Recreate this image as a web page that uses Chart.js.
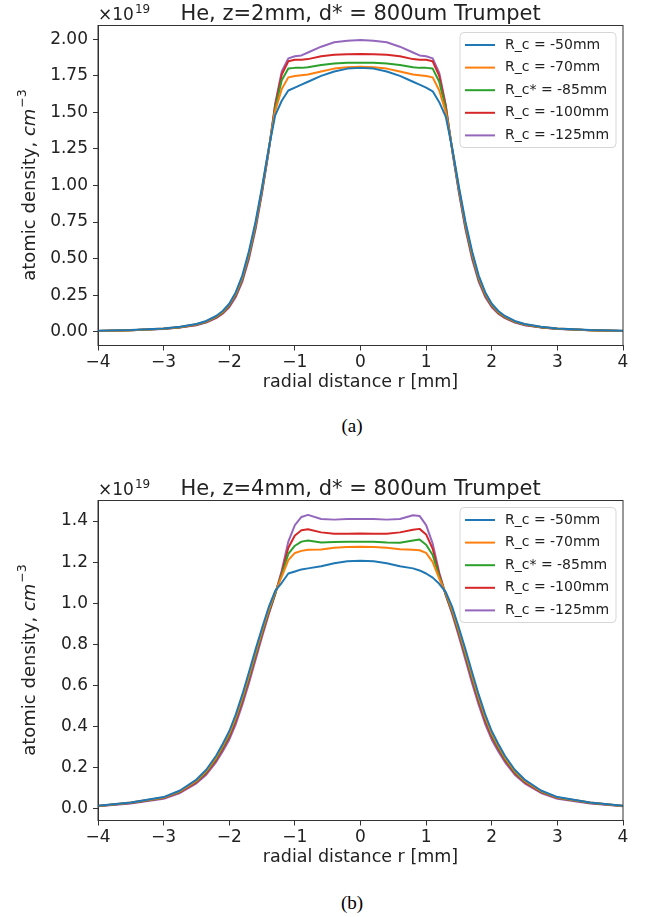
<!DOCTYPE html>
<html>
<head>
<meta charset="utf-8">
<script src="https://cdn.jsdelivr.net/npm/chart.js@4.4.0/dist/chart.umd.min.js"></script>
<style>
  body { margin: 0; background: #fff; }
  #wrap { position: relative; width: 657px; height: 917px; }
  .box { position: absolute; left: 0; width: 657px; height: 393px; }
  .cap { position: absolute; left: 0; width: 704px; text-align: center;
         font: 19px "Liberation Serif", serif; line-height: 24px; color: #000; }
</style>
</head>
<body>
<div id="wrap">
  <div class="box" style="top:0px"><canvas id="chartA" width="657" height="393"></canvas></div>
  <div class="cap" style="top:414px">(a)</div>
  <div class="box" style="top:475px"><canvas id="chartB" width="657" height="393"></canvas></div>
  <div class="cap" style="top:891px">(b)</div>
</div>
<script>
// radial positions (mm), shared by every curve
var radiusMm = [-4, -3.5, -3, -2.75, -2.5, -2.35, -2.2, -2.1, -2, -1.9, -1.8, -1.7, -1.6, -1.5, -1.4, -1.3,
  -1.2, -1.1, -1, -0.9, -0.8, -0.6, -0.4, -0.2, 0, 0.2, 0.4, 0.6, 0.8, 0.9, 1, 1.1, 1.2,
  1.3, 1.4, 1.5, 1.6, 1.7, 1.8, 1.9, 2, 2.1, 2.2, 2.35, 2.5, 2.75, 3, 3.5, 4];

var seriesLabels = ['R_c = -50mm', 'R_c = -70mm', 'R_c* = -85mm', 'R_c = -100mm', 'R_c = -125mm'];
var seriesColors = ['#1f77b4', '#ff7f0e', '#2ca02c', '#d62728', '#9467bd'];

// (a) z = 2mm, density in 1e19 cm^-3
var aRc50 = [0.006, 0.011, 0.022, 0.033, 0.052, 0.073, 0.107, 0.141, 0.191, 0.270, 0.385, 0.550, 0.750, 0.990, 1.250, 1.480,
  1.580, 1.650, 1.670, 1.690, 1.710, 1.750, 1.780, 1.800, 1.805, 1.800, 1.780, 1.750, 1.710, 1.690, 1.670, 1.645, 1.570,
  1.470, 1.250, 0.990, 0.750, 0.550, 0.385, 0.270, 0.191, 0.141, 0.107, 0.073, 0.052, 0.033, 0.022, 0.011, 0.006];
var aRc70 = [0.005, 0.010, 0.021, 0.031, 0.050, 0.070, 0.103, 0.136, 0.185, 0.262, 0.375, 0.537, 0.737, 0.980, 1.245, 1.510,
  1.660, 1.740, 1.750, 1.755, 1.760, 1.780, 1.800, 1.810, 1.812, 1.810, 1.800, 1.780, 1.760, 1.755, 1.750, 1.740, 1.650,
  1.500, 1.245, 0.980, 0.737, 0.537, 0.375, 0.262, 0.185, 0.136, 0.103, 0.070, 0.050, 0.031, 0.021, 0.010, 0.005];
var aRc85 = [0.005, 0.010, 0.020, 0.030, 0.048, 0.068, 0.100, 0.132, 0.180, 0.255, 0.365, 0.525, 0.725, 0.970, 1.240, 1.530,
  1.720, 1.800, 1.805, 1.805, 1.810, 1.825, 1.835, 1.840, 1.840, 1.840, 1.835, 1.825, 1.810, 1.805, 1.805, 1.800, 1.710,
  1.520, 1.240, 0.970, 0.725, 0.525, 0.365, 0.255, 0.180, 0.132, 0.100, 0.068, 0.048, 0.030, 0.020, 0.010, 0.005];
var aRc100 = [0.005, 0.010, 0.019, 0.029, 0.046, 0.065, 0.096, 0.127, 0.174, 0.247, 0.355, 0.512, 0.712, 0.960, 1.235, 1.550,
  1.760, 1.850, 1.860, 1.860, 1.865, 1.885, 1.895, 1.898, 1.900, 1.898, 1.895, 1.885, 1.865, 1.860, 1.860, 1.850, 1.750,
  1.540, 1.235, 0.960, 0.712, 0.512, 0.355, 0.247, 0.174, 0.127, 0.096, 0.065, 0.046, 0.029, 0.019, 0.010, 0.005];
var aRc125 = [0.004, 0.009, 0.018, 0.028, 0.044, 0.062, 0.092, 0.122, 0.167, 0.238, 0.343, 0.498, 0.698, 0.950, 1.230, 1.560,
  1.780, 1.870, 1.885, 1.890, 1.910, 1.950, 1.980, 1.990, 1.995, 1.990, 1.980, 1.950, 1.910, 1.890, 1.885, 1.870, 1.770,
  1.550, 1.230, 0.950, 0.698, 0.498, 0.343, 0.238, 0.167, 0.122, 0.092, 0.062, 0.044, 0.028, 0.018, 0.009, 0.004];

// (b) z = 4mm
var bRc50 = [0.016, 0.032, 0.058, 0.090, 0.143, 0.191, 0.259, 0.316, 0.378, 0.460, 0.557, 0.665, 0.775, 0.880, 0.980, 1.060,
  1.100, 1.145, 1.155, 1.165, 1.170, 1.180, 1.195, 1.205, 1.207, 1.205, 1.195, 1.180, 1.170, 1.160, 1.145, 1.125, 1.095,
  1.055, 0.980, 0.880, 0.775, 0.665, 0.557, 0.460, 0.378, 0.316, 0.259, 0.191, 0.143, 0.090, 0.058, 0.032, 0.016];
var bRc70 = [0.015, 0.031, 0.056, 0.087, 0.138, 0.185, 0.251, 0.307, 0.368, 0.448, 0.544, 0.651, 0.761, 0.868, 0.968, 1.055,
  1.130, 1.210, 1.245, 1.255, 1.260, 1.262, 1.270, 1.274, 1.275, 1.274, 1.270, 1.263, 1.260, 1.258, 1.245, 1.200, 1.120,
  1.050, 0.968, 0.868, 0.761, 0.651, 0.544, 0.448, 0.368, 0.307, 0.251, 0.185, 0.138, 0.087, 0.056, 0.031, 0.015];
var bRc85 = [0.015, 0.030, 0.055, 0.085, 0.135, 0.180, 0.245, 0.300, 0.360, 0.440, 0.535, 0.640, 0.750, 0.860, 0.960, 1.050,
  1.140, 1.240, 1.280, 1.300, 1.305, 1.296, 1.298, 1.300, 1.300, 1.300, 1.296, 1.295, 1.305, 1.310, 1.285, 1.235, 1.130,
  1.045, 0.960, 0.860, 0.750, 0.640, 0.535, 0.440, 0.360, 0.300, 0.245, 0.180, 0.135, 0.085, 0.055, 0.030, 0.015];
var bRc100 = [0.014, 0.029, 0.053, 0.082, 0.131, 0.174, 0.238, 0.292, 0.350, 0.428, 0.523, 0.628, 0.740, 0.850, 0.952, 1.045,
  1.150, 1.270, 1.330, 1.355, 1.360, 1.345, 1.338, 1.338, 1.340, 1.338, 1.338, 1.345, 1.358, 1.362, 1.335, 1.265, 1.140,
  1.040, 0.952, 0.850, 0.740, 0.628, 0.523, 0.428, 0.350, 0.292, 0.238, 0.174, 0.131, 0.082, 0.053, 0.029, 0.014];
var bRc125 = [0.013, 0.027, 0.050, 0.078, 0.125, 0.167, 0.228, 0.280, 0.337, 0.413, 0.507, 0.612, 0.725, 0.838, 0.945, 1.045,
  1.160, 1.300, 1.380, 1.420, 1.430, 1.410, 1.407, 1.410, 1.410, 1.410, 1.407, 1.410, 1.428, 1.425, 1.380, 1.290, 1.150,
  1.040, 0.945, 0.838, 0.725, 0.612, 0.507, 0.413, 0.337, 0.280, 0.228, 0.167, 0.125, 0.078, 0.050, 0.027, 0.013];

// tick positions
var xTickVals = [-4, -3, -2, -1, 0, 1, 2, 3, 4];
var aYTickVals = [0, 0.25, 0.5, 0.75, 1, 1.25, 1.5, 1.75, 2];
var bYTickVals = [0, 0.2, 0.4, 0.6, 0.8, 1, 1.2, 1.4];

var FONT = '"DejaVu Sans", sans-serif';
var INK = '#222';

// title, offset text, y label, frame and legend drawn on top of the chart
var decor = {
  id: 'decor',
  afterDraw: function (chart) {
    var o = chart.options.plugins.decor, a = chart.chartArea, ctx = chart.ctx;
    ctx.save();
    ctx.strokeStyle = '#333';
    ctx.lineWidth = 1;
    ctx.strokeRect(a.left, a.top, a.right - a.left, a.bottom - a.top);

    ctx.fillStyle = INK;
    ctx.textBaseline = 'alphabetic';
    ctx.textAlign = 'center';
    ctx.font = '21px ' + FONT;
    ctx.fillText(o.title, (a.left + a.right) / 2, a.top - 6);

    ctx.textAlign = 'left';
    ctx.font = '17px ' + FONT;
    ctx.fillText('\u00d710', a.left, a.top - 6);
    var w10 = ctx.measureText('\u00d710').width;
    ctx.font = '12px ' + FONT;
    ctx.fillText('19', a.left + w10 + 1, a.top - 13);

    // y label: "atomic density, cm^-3"
    var p1 = 'atomic density, ', p2 = 'cm', p3 = '\u22123';
    ctx.font = '18px ' + FONT; var w1 = ctx.measureText(p1).width;
    ctx.font = 'oblique 18px ' + FONT; var w2 = ctx.measureText(p2).width;
    ctx.font = '12.5px ' + FONT; var w3 = ctx.measureText(p3).width;
    ctx.translate(30, (a.top + a.bottom) / 2);
    ctx.rotate(-Math.PI / 2);
    ctx.textBaseline = 'middle';
    var sx = -(w1 + w2 + w3) / 2;
    ctx.font = '18px ' + FONT; ctx.fillText(p1, sx, 0);
    ctx.font = 'oblique 18px ' + FONT; ctx.fillText(p2, sx + w1, 0);
    ctx.font = '12.5px ' + FONT; ctx.fillText(p3, sx + w1 + w2 + 1, -7);
    ctx.setTransform(1, 0, 0, 1, 0, 0);

    // legend box, upper right
    var bw = 156, bh = 115, bx = a.right - 7 - bw, by = a.top + 7;
    ctx.beginPath();
    ctx.roundRect(bx, by, bw, bh, 4);
    ctx.fillStyle = 'rgba(255,255,255,0.8)';
    ctx.fill();
    ctx.strokeStyle = '#d6d6d6';
    ctx.stroke();
    ctx.font = '14px ' + FONT;
    ctx.textBaseline = 'middle';
    chart.data.datasets.forEach(function (ds, i) {
      var ly = by + 12.5 + i * 22.6;
      ctx.strokeStyle = ds.borderColor;
      ctx.lineWidth = 2;
      ctx.beginPath();
      ctx.moveTo(bx + 5, ly);
      ctx.lineTo(bx + 35, ly);
      ctx.stroke();
      ctx.fillStyle = INK;
      ctx.fillText(ds.label, bx + 45, ly);
    });
    ctx.restore();
  }
};

function fmtMinus(v, digits) {
  var s = Math.abs(v).toFixed(digits);
  return v < 0 ? '\u2212' + s : s;
}

function makeChart(id, title, series, yMin, yMax, yTicks, yDigits) {
  var datasets = series.map(function (vals, i) {
    return {
      label: seriesLabels[i],
      data: radiusMm.map(function (x, j) { return {x: x, y: vals[j]}; }),
      borderColor: seriesColors[i],
      borderWidth: 2,
      pointRadius: 0,
      tension: 0,
      fill: false,
      borderJoinStyle: 'round'
    };
  });
  var ctx = document.getElementById(id).getContext('2d');
  return new Chart(ctx, {
    type: 'line',
    data: {datasets: datasets},
    plugins: [decor],
    options: {
      responsive: false,
      animation: false,
      layout: {padding: {top: 25.5, right: 34, bottom: 0, left: 0}},
      plugins: {
        legend: {display: false},
        tooltip: {enabled: false},
        decor: {title: title}
      },
      scales: {
        x: {
          type: 'linear', min: -4, max: 4,
          afterBuildTicks: function (s) { s.ticks = xTickVals.map(function (v) { return {value: v}; }); },
          afterFit: function (s) { s.height = 47.5; },
          ticks: {
            font: {family: FONT, size: 17}, color: INK, padding: 2,
            maxRotation: 0, autoSkip: false,
            callback: function (v) { return fmtMinus(v, 0); }
          },
          grid: {drawOnChartArea: false, drawTicks: true, tickLength: 5, color: '#333'},
          border: {display: true, color: '#333'},
          title: {display: true, text: 'radial distance r [mm]', color: INK,
                  font: {family: FONT, size: 17.5}, padding: 0}
        },
        y: {
          type: 'linear', min: yMin, max: yMax,
          afterBuildTicks: function (s) { s.ticks = yTicks.map(function (v) { return {value: v}; }); },
          afterFit: function (s) { s.width = 98; },
          ticks: {
            font: {family: FONT, size: 17}, color: INK, padding: 5, autoSkip: false,
            callback: function (v) { return fmtMinus(v, yDigits); }
          },
          grid: {drawOnChartArea: false, drawTicks: true, tickLength: 5, color: '#333'},
          border: {display: true, color: '#333'}
        }
      }
    }
  });
}

makeChart('chartA', 'He, z=2mm, d* = 800um Trumpet',
  [aRc50, aRc70, aRc85, aRc100, aRc125], -0.095, 2.095, aYTickVals, 2);
makeChart('chartB', 'He, z=4mm, d* = 800um Trumpet',
  [bRc50, bRc70, bRc85, bRc100, bRc125], -0.056, 1.50, bYTickVals, 1);
</script>
</body>
</html>
